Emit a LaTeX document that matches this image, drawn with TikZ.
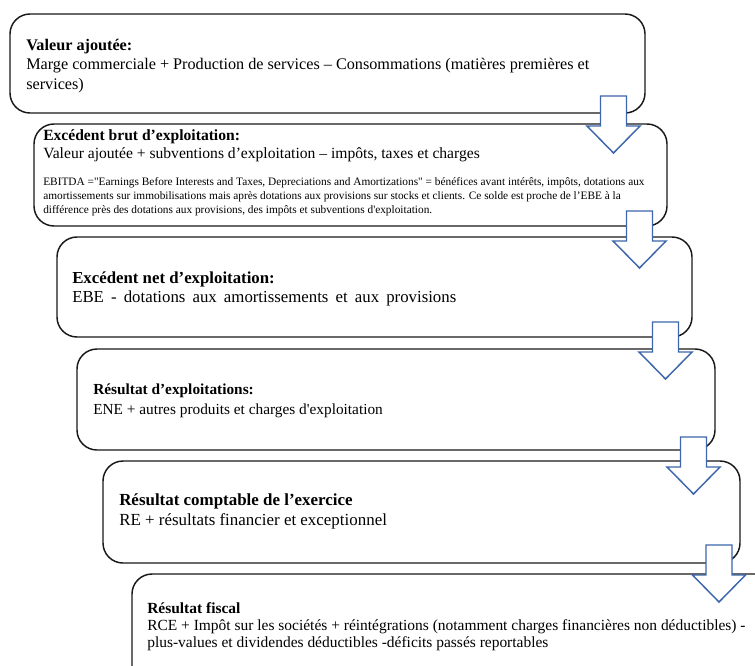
\documentclass[tikz,border=0pt]{standalone}
\usepackage{fontspec}
\setmainfont{Liberation Serif}
\usetikzlibrary{fit}
\definecolor{arrblue}{RGB}{62,102,172}
\definecolor{boxline}{RGB}{25,25,25}
\newcommand{\blockarr}[2]{%
  \draw[arrstyle] (#1-13,#2) -- (#1+13,#2) -- (#1+13,#2+30) -- (#1+26.5,#2+30)
    -- (#1,#2+57) -- (#1-26.5,#2+30) -- (#1-13,#2+30) -- cycle;}
\begin{document}
\begin{tikzpicture}[x=0.75pt,y=-0.75pt,
  box/.style={draw=boxline, line width=1.1pt, rounded corners=15pt, inner sep=0pt, fill=white},
  txt/.style={anchor=north west, inner sep=0pt, align=left, text=black},
  arrstyle/.style={draw=arrblue, line width=1.1pt, fill=white, line join=miter}]
\useasboundingbox (0,0) rectangle (755,665);
\clip (0,0) rectangle (755,665);
\fill[white] (0,0) rectangle (755,665);
% boxes
\node[box, fit={(10,14) (645,113)}] (b1) {};
\node[box, fit={(34,124) (667,226)}] (b2) {};
\node[box, fit={(57,237) (692,337)}] (b3) {};
\node[box, fit={(77,349) (715,450)}] (b4) {};
\node[box, fit={(103,461) (740,563)}] (b5) {};
\node[box, fit={(132,574) (830,740)}] (b6) {};
% texts
\node[txt, font={\fontsize{12.15}{14.6}\selectfont}] (t1) at (26,33.8)
  {\rule{0pt}{1em}\textbf{Valeur ajoutée:}\\
   Marge commerciale + Production de services – Consommations (matières premières et\\
   services)};
\node[txt, font={\fontsize{11.7}{13.8}\selectfont}] (t2) at (43,124.4)
  {\rule{0pt}{1em}\textbf{Excédent brut d’exploitation:}\\
   Valeur ajoutée + subventions d’exploitation – impôts, taxes et charges};
\node[txt, font={\fontsize{8.5}{10.6}\selectfont}] (t2b) at (43,174)
  {\rule{0pt}{1em}\makebox[451pt][s]{EBITDA =\textquotedbl Earnings Before Interests and Taxes, Depreciations and Amortizations\textquotedbl\ = bénéfices avant intérêts, impôts, dotations aux}\\
   amortissements sur immobilisations mais après dotations aux provisions sur stocks et clients. Ce solde est proche de l’EBE à la\\
   différence près des dotations aux provisions, des impôts et subventions d\textquotesingle exploitation.};
\node[txt, font={\fontsize{12.6}{14.6}\selectfont}] (t3) at (72,266)
  {\rule{0pt}{1em}\textbf{Excédent net d’exploitation:}\\
   \makebox[288pt][s]{EBE - dotations aux amortissements et aux provisions}};
\node[txt, font={\fontsize{11.5}{15}\selectfont}] (t4) at (93,378.5)
  {\rule{0pt}{1em}\textbf{Résultat d’exploitations:}\\
   ENE + autres produits et charges d\textquotesingle exploitation};
\node[txt, font={\fontsize{12.7}{15}\selectfont}] (t5) at (119,488)
  {\rule{0pt}{1em}\textbf{Résultat comptable de l’exercice}\\
   RE + résultats financier et exceptionnel};
\node[txt, font={\fontsize{11.6}{12.8}\selectfont}] (t6) at (147,597.5)
  {\rule{0pt}{1em}\textbf{Résultat fiscal}\\
   RCE + Impôt sur les sociétés + réintégrations (notamment charges financières non déductibles) -\\
   plus-values et dividendes déductibles -déficits passés reportables};
% block arrows
\blockarr{613.5}{96}
\blockarr{639.5}{211}
\blockarr{665.5}{322}
\blockarr{693.5}{437}
\blockarr{719}{545}
\end{tikzpicture}
\end{document}
